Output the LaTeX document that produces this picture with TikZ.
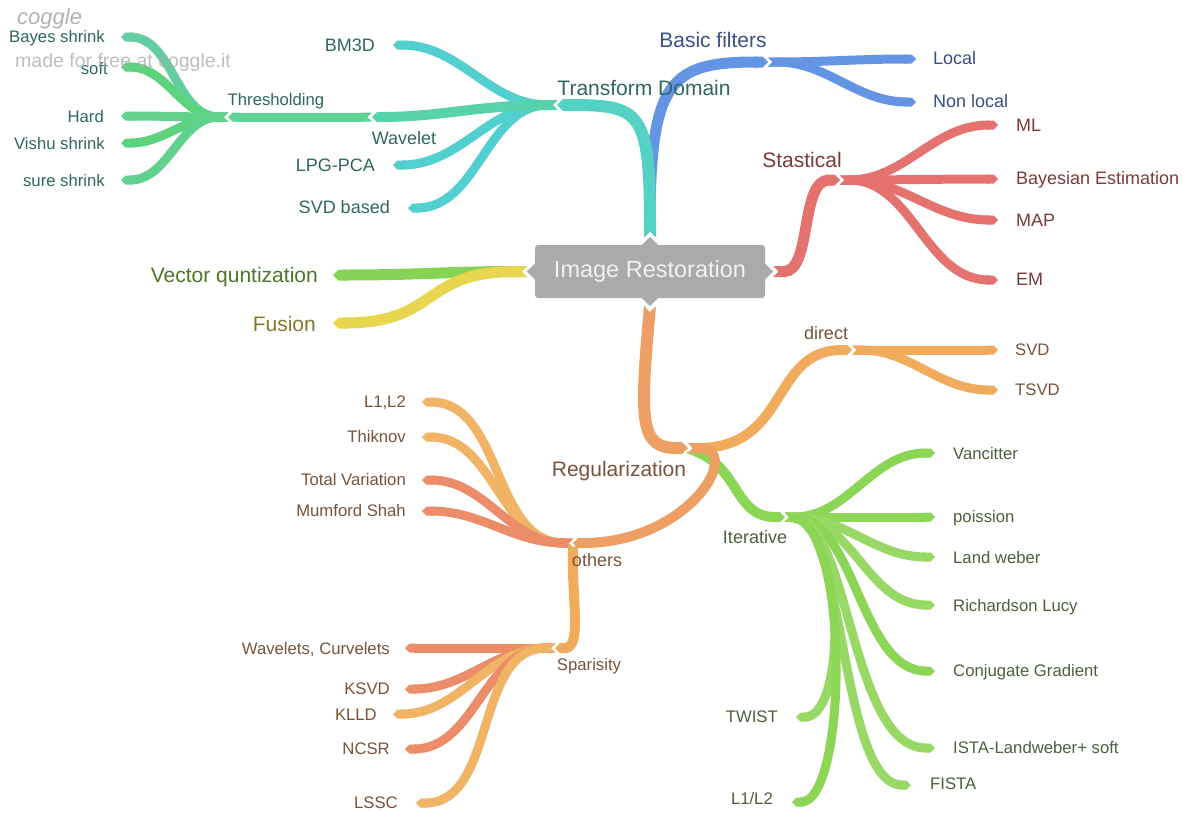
\documentclass[tikz,border=0pt]{standalone}
\usepackage{fontspec}
\setmainfont{Liberation Sans}
\usetikzlibrary{arrows.meta,calc}
\definecolor{cTD}{RGB}{84,210,196}
\definecolor{cCy}{RGB}{82,208,208}
\definecolor{cWa}{RGB}{88,210,170}
\definecolor{cTh}{RGB}{95,211,150}
\definecolor{cGa}{RGB}{98,206,162}
\definecolor{cGb}{RGB}{92,212,125}
\definecolor{cGc}{RGB}{96,210,142}
\definecolor{cBl}{RGB}{100,148,228}
\definecolor{cRd}{RGB}{228,115,112}
\definecolor{cVq}{RGB}{135,212,85}
\definecolor{cFu}{RGB}{232,214,78}
\definecolor{cOr}{RGB}{238,160,100}
\definecolor{cOrb}{RGB}{240,172,92}
\definecolor{cOy}{RGB}{240,180,100}
\definecolor{cSa}{RGB}{236,140,105}
\definecolor{cGr}{RGB}{140,214,85}
\definecolor{cGrb}{RGB}{152,216,100}
\definecolor{tTe}{RGB}{46,104,96}
\definecolor{tBl}{RGB}{58,82,136}
\definecolor{tRd}{RGB}{125,58,58}
\definecolor{tVq}{RGB}{78,118,42}
\definecolor{tFu}{RGB}{134,120,44}
\definecolor{tOr}{RGB}{122,84,58}
\definecolor{tGr}{RGB}{78,96,60}
\definecolor{rootgray}{RGB}{170,170,170}
\definecolor{roottext}{RGB}{242,242,242}
\definecolor{wmark}{RGB}{170,170,170}
\tikzset{
  br/.style={line width=#1, {Triangle Cap[reversed]}-{Triangle Cap}},
  lf/.style={inner sep=0pt, font=\fontsize{16.7}{18}\selectfont},
  md/.style={inner sep=0pt, font=\fontsize{18}{20}\selectfont},
  bg/.style={inner sep=0pt, font=\fontsize{21}{23}\selectfont},
  rootbox/.style={fill=rootgray, text=roottext, minimum width=230pt, minimum height=53pt, rounded corners=3pt, inner sep=0pt, font=\fontsize{23.5}{26}\selectfont},
}
\begin{document}
\begin{tikzpicture}[x=1pt,y=-1pt]
\useasboundingbox (0,0) rectangle (1189,812);
\fill[white] (0,0) rectangle (1189,812);
% junction coordinates
\coordinate (rt) at (650,237);
\coordinate (rb) at (650,306);
\coordinate (rl) at (527,271.5);
\coordinate (rr) at (773,271.5);
\coordinate (td) at (557,105);
\coordinate (bf) at (768,62);
\coordinate (st) at (840,180);
\coordinate (vq) at (333,275);
\coordinate (fu) at (333,323);
\coordinate (re) at (688,448);
\coordinate (di) at (852,350);
\coordinate (ot) at (573,543);
\coordinate (sp) at (555,648);
\coordinate (it) at (785,517);
\coordinate (wa) at (372,117);
\coordinate (th) at (228,117);
% leaf coordinates
\coordinate (bayes) at (121,37);
\coordinate (soft) at (121,67);
\coordinate (hard) at (121,116);
\coordinate (vishu) at (121,143);
\coordinate (sure) at (121,180);
\coordinate (bm3d) at (393,45);
\coordinate (lpg) at (393,165);
\coordinate (svdb) at (408,208);
\coordinate (local) at (916,59);
\coordinate (nonlocal) at (916,102);
\coordinate (ml) at (998,125);
\coordinate (bayest) at (998,179);
\coordinate (map) at (998,220);
\coordinate (em) at (998,280);
\coordinate (svd) at (998,350);
\coordinate (tsvd) at (998,390);
\coordinate (l1l2) at (422,402);
\coordinate (thik) at (422,437);
\coordinate (tv) at (422,480);
\coordinate (ms) at (422,511);
\coordinate (wc) at (405,648);
\coordinate (ksvd) at (405,689);
\coordinate (klld) at (393,714);
\coordinate (ncsr) at (405,749);
\coordinate (lssc) at (416,803);
\coordinate (van) at (935,453);
\coordinate (poi) at (935,517);
\coordinate (land) at (935,557);
\coordinate (rich) at (935,605);
\coordinate (conj) at (935,671);
\coordinate (ista) at (935,748);
\coordinate (fista) at (911,785);
\coordinate (twist) at (796,717);
\coordinate (lone) at (792,802);

% Basic filters (blue)
\draw[br=11pt, cBl] (rt) .. controls (650,80) and (670,62) .. (bf);
\draw[br=9pt, cBl] (bf) to[out=0,in=180] (local);
\draw[br=9pt, cBl] (bf) to[out=0,in=180] (nonlocal);
% Transform domain (teal)
\draw[br=9pt, cCy] (td) to[out=180,in=0] (bm3d);
\draw[br=9pt, cCy] (td) to[out=180,in=0] (lpg);
\draw[br=9pt, cCy] (td) to[out=180,in=0] (svdb);
\draw[br=9pt, cGa] (th) to[out=180,in=0] (bayes);
\draw[br=9pt, cGb] (th) to[out=180,in=0] (soft);
\draw[br=9pt, cGc] (th) to[out=180,in=0] (hard);
\draw[br=9pt, cGb] (th) to[out=180,in=0] (vishu);
\draw[br=9pt, cGc] (th) to[out=180,in=0] (sure);
\draw[br=9pt, cTh] (wa) -- (th);
\draw[br=10pt, cWa] (td) .. controls (480,105) and (440,117) .. (wa);
\draw[br=12pt, cTD] (rt) .. controls (650,110) and (640,105) .. (td);
% Stastical (red)
\draw[br=9pt, cRd] (st) to[out=0,in=180] (ml);
\draw[br=9pt, cRd] (st) to[out=0,in=180] (bayest);
\draw[br=9pt, cRd] (st) to[out=0,in=180] (map);
\draw[br=9pt, cRd] (st) to[out=0,in=180] (em);
\draw[br=11pt, cRd] (rr) .. controls (812,271.5) and (800,180) .. (st);
% Vector quantization, Fusion
\draw[br=11pt, cVq] (rl) .. controls (450,271.5) and (420,275) .. (vq);
\draw[br=11pt, cFu] (rl) .. controls (420,271.5) and (440,323) .. (fu);
% Iterative (green)
\draw[br=9pt, cGr] (it) to[out=0,in=180] (van);
\draw[br=9pt, cGr] (it) to[out=0,in=180] (poi);
\draw[br=9pt, cGrb] (it) to[out=0,in=180] (land);
\draw[br=9pt, cGrb] (it) to[out=0,in=180] (rich);
\draw[br=9pt, cGr] (it) .. controls (855,517) and (860,671) .. (conj);
\draw[br=9pt, cGrb] (it) .. controls (850,520) and (850,748) .. (ista);
\draw[br=9pt, cGrb] (it) .. controls (845,520) and (840,785) .. (fista);
\draw[br=9pt, cGrb] (it) .. controls (845,520) and (848,717) .. (twist);
\draw[br=9pt, cGr] (it) .. controls (850,525) and (848,802) .. (lone);
\draw[br=10pt, cGr] (re) .. controls (740,470) and (735,517) .. (it);
% Regularization (orange)
\draw[br=9pt, cOrb] (di) to[out=0,in=180] (svd);
\draw[br=9pt, cOrb] (di) to[out=0,in=180] (tsvd);
\draw[br=10pt, cOrb] (re) .. controls (790,448) and (770,350) .. (di);
\draw[br=9pt, cOy] (ot) to[out=180,in=0] (l1l2);
\draw[br=9pt, cOy] (ot) to[out=180,in=0] (thik);
\draw[br=9pt, cSa] (ot) to[out=180,in=0] (tv);
\draw[br=9pt, cSa] (ot) to[out=180,in=0] (ms);
\draw[br=9pt, cSa] (sp) to[out=180,in=0] (wc);
\draw[br=9pt, cSa] (sp) to[out=180,in=0] (ksvd);
\draw[br=9pt, cOy] (sp) to[out=180,in=0] (klld);
\draw[br=9pt, cSa] (sp) to[out=180,in=0] (ncsr);
\draw[br=9pt, cOy] (sp) to[out=180,in=0] (lssc);
\draw[br=10pt, cOrb] (ot) .. controls (572,600) and (582,648) .. (sp);
\draw[br=10pt, cOr] (re) .. controls (745,448) and (690,543) .. (ot);
\draw[br=12pt, cOr] (rb) .. controls (640,420) and (640,448) .. (re);

% root
\node[rootbox] (root) at (650,271.5) {Image Restoration};
\fill[rootgray] ($(root.north)+(-9,1)$) -- ($(root.north)+(0,-8)$) -- ($(root.north)+(9,1)$) -- cycle;
\fill[rootgray] ($(root.south)+(-9,-1)$) -- ($(root.south)+(0,8)$) -- ($(root.south)+(9,-1)$) -- cycle;
\fill[rootgray] ($(root.west)+(1,-9)$) -- ($(root.west)+(-8,0)$) -- ($(root.west)+(1,9)$) -- cycle;
\fill[rootgray] ($(root.east)+(-1,-9)$) -- ($(root.east)+(8,0)$) -- ($(root.east)+(-1,9)$) -- cycle;

% level-1 labels
\node[bg, text=tTe, anchor=base] (nTD) at (644,95) {Transform Domain};
\node[bg, text=tBl, anchor=base] (nBF) at (713,47.5) {Basic filters};
\node[bg, text=tRd, anchor=base] (nST) at (802,167.5) {Stastical};
\node[bg, text=tVq, anchor=base east] (nVQ) at (318,282.5) {Vector quntization};
\node[bg, text=tFu, anchor=base east] (nFU) at (316,331.5) {Fusion};
\node[bg, text=tOr, anchor=base] (nRE) at (619,476) {Regularization};
% level-2 labels
\node[md, text=tTe, anchor=base] (nWA) at (404,144.5) {Wavelet};
\node[md, text=tTe, anchor=base east] (lBM) at (375,51.5) {BM3D};
\node[md, text=tTe, anchor=base east] (lLPG) at (375,171.5) {LPG-PCA};
\node[md, text=tTe, anchor=base east] (lSVDb) at (390,213.5) {SVD based};
\node[md, text=tBl, anchor=base west] (lLocal) at (933,64.5) {Local};
\node[md, text=tBl, anchor=base west] (lNon) at (933,107.5) {Non local};
\node[md, text=tRd, anchor=base west] (lML) at (1016,131.5) {ML};
\node[md, text=tRd, anchor=base west] (lBE) at (1016,184.5) {Bayesian Estimation};
\node[md, text=tRd, anchor=base west] (lMAP) at (1016,226.5) {MAP};
\node[md, text=tRd, anchor=base west] (lEM) at (1016,285.5) {EM};
\node[md, text=tOr, anchor=base] (nDI) at (826,339.5) {direct};
\node[md, text=tOr, anchor=base] (nOT) at (597,566.5) {others};
\node[md, text=tGr, anchor=base] (nIT) at (755,543.5) {Iterative};
% deeper labels
\node[lf, text=tTe, anchor=base] (nTH) at (276,105) {Thresholding};
\node[lf, text=tOr, anchor=base] (nSP) at (589,670) {Sparisity};
\node[lf, text=tTe, anchor=base east] (lBayes) at (105,42) {Bayes shrink};
\node[lf, text=tTe, anchor=base east] (lSoft) at (108,74) {soft};
\node[lf, text=tTe, anchor=base east] (lHard) at (104,122) {Hard};
\node[lf, text=tTe, anchor=base east] (lVishu) at (105,149) {Vishu shrink};
\node[lf, text=tTe, anchor=base east] (lSure) at (105,186) {sure shrink};
\node[lf, text=tOr, anchor=base west] (lSVD) at (1015,355) {SVD};
\node[lf, text=tOr, anchor=base west] (lTSVD) at (1015,395) {TSVD};
\node[lf, text=tOr, anchor=base east] (lL12) at (406,407) {L1,L2};
\node[lf, text=tOr, anchor=base east] (lThik) at (406,442) {Thiknov};
\node[lf, text=tOr, anchor=base east] (lTV) at (406,485) {Total Variation};
\node[lf, text=tOr, anchor=base east] (lMS) at (406,516) {Mumford Shah};
\node[lf, text=tOr, anchor=base east] (lWC) at (390,654) {Wavelets, Curvelets};
\node[lf, text=tOr, anchor=base east] (lKSVD) at (390,694) {KSVD};
\node[lf, text=tOr, anchor=base east] (lKLLD) at (377,720) {KLLD};
\node[lf, text=tOr, anchor=base east] (lNCSR) at (390,754) {NCSR};
\node[lf, text=tOr, anchor=base east] (lLSSC) at (398,808) {LSSC};
\node[lf, text=tGr, anchor=base west] (lVan) at (953,459) {Vancitter};
\node[lf, text=tGr, anchor=base west] (lPoi) at (953,522) {poission};
\node[lf, text=tGr, anchor=base west] (lLand) at (953,563) {Land weber};
\node[lf, text=tGr, anchor=base west] (lRich) at (953,611) {Richardson Lucy};
\node[lf, text=tGr, anchor=base west] (lConj) at (953,676) {Conjugate Gradient};
\node[lf, text=tGr, anchor=base west] (lISTA) at (953,753) {ISTA-Landweber+ soft};
\node[lf, text=tGr, anchor=base west] (lFISTA) at (930,789) {FISTA};
\node[lf, text=tGr, anchor=base east] (lTWIST) at (778,722) {TWIST};
\node[lf, text=tGr, anchor=base east] (lL1L2) at (773,804) {L1/L2};

% watermark
\node[inner sep=0pt, anchor=base west, text=wmark, opacity=0.9, font=\fontsize{22}{24}\selectfont\itshape] (wm1) at (17,24) {coggle};
\node[inner sep=0pt, anchor=base west, text=wmark, opacity=0.75, font=\fontsize{19.5}{22}\selectfont] (wm2) at (15,67) {made for free at coggle.it};
\end{tikzpicture}
\end{document}
